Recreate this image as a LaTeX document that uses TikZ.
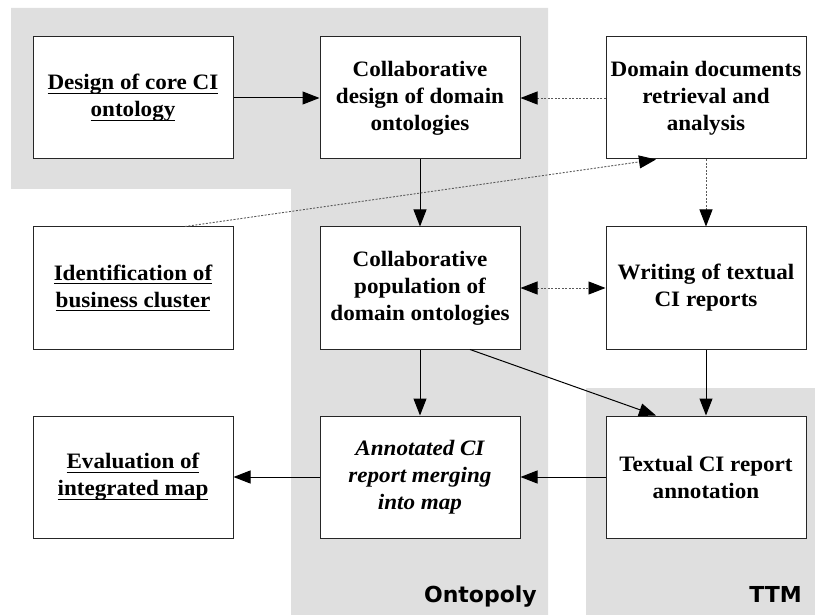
\documentclass[tikz,border=0pt]{standalone}
\usepackage{fontspec}
\setmainfont{Liberation Serif}[FakeStretch=1.05]
\newfontfamily\zonefont{DejaVu Sans}
\usetikzlibrary{arrows.meta,calc,positioning}
\definecolor{zonegray}{RGB}{223,223,223}
\tikzstyle{activity}=[draw=black!85,line width=1pt,fill=white,minimum width=200pt,minimum height=122pt,inner sep=0pt,align=center,font=\fontsize{22}{27}\selectfont\bfseries]
\tikzstyle{flow}=[-{Triangle[length=17pt,width=13pt]},line width=1pt]
\tikzstyle{hint}=[-{Triangle[length=17pt,width=13pt,color=black]},draw=black!65,line width=0.9pt,dash pattern=on 2pt off 1.5pt]
\tikzstyle{zonelabel}=[inner sep=0pt,font=\zonefont\fontsize{22}{26}\selectfont\bfseries]
\newsavebox{\ulbox}
\newcommand{\ulined}[1]{\sbox{\ulbox}{#1}\rlap{\rule[-4pt]{\wd\ulbox}{0.9pt}}\usebox{\ulbox}}
\newcommand{\drawflows}[2][flow]{
	\foreach \a/\b in {#2}{
		\draw[#1] (\a) edge (\b);
	}
}

\begin{document}
\begin{tikzpicture}[x=1pt,y=-1pt]
	\useasboundingbox (0,0) rectangle (815,615);
	\fill[zonegray] (11,8) -- (548,8) -- (548,615) -- (291,615) -- (291,189) -- (11,189) -- cycle;
	\fill[zonegray] (586,388) rectangle (815,615);
	\node[zonelabel,anchor=base east] (ontopoly) at (537,602) {Ontopoly};
	\node[zonelabel,anchor=base east] (ttm) at (802,602) {TTM};
	\node[activity] (design) at (133,98) {\ulined{Design of core CI}\\\ulined{ontology}};
	\node[activity] (collabdesign) at (420,98) {Collaborative\\design of domain\\ontologies};
	\node[activity] (docs) at (706,98) {Domain documents\\retrieval and\\analysis};
	\node[activity] (ident) at (133,288) {\ulined{Identification of}\\\ulined{business cluster}};
	\node[activity] (collabpop) at (420,288) {Collaborative\\population of\\domain ontologies};
	\node[activity] (writing) at (706,288) {Writing of textual\\CI reports};
	\node[activity] (evaluation) at (133,477) {\ulined{Evaluation of}\\\ulined{integrated map}};
	\node[activity,font=\fontsize{22}{27}\selectfont\bfseries\itshape] (merging) at (420,477) {Annotated CI\\report merging\\into map};
	\node[activity] (annotation) at (706,477) {Textual CI report\\annotation};
	\drawflows{design/collabdesign,collabdesign/collabpop,collabpop/merging,writing/annotation,annotation/merging,merging/evaluation};
	\drawflows[hint]{docs/collabdesign,docs/writing};
	\draw[hint,{Triangle[length=17pt,width=13pt,color=black]}-{Triangle[length=17pt,width=13pt,color=black]}] (collabpop) -- (writing);
	\draw[hint] ([xshift=52pt]ident.north) -- ([xshift=-50pt]docs.south);
	\draw[flow] ([xshift=50pt]collabpop.south) -- ([xshift=-50pt]annotation.north);
\end{tikzpicture}
\end{document}
